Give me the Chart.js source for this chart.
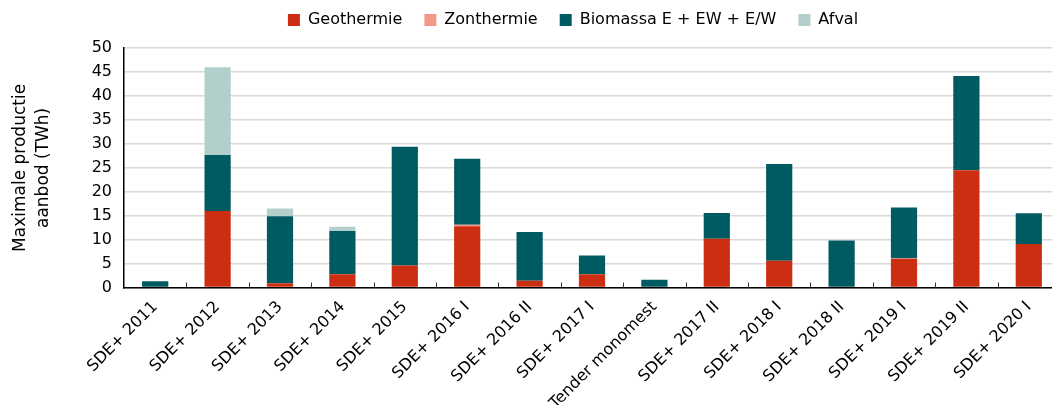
<!DOCTYPE html>
<html>
<head>
<meta charset="utf-8">
<script src="https://cdn.jsdelivr.net/npm/chart.js@4"></script>
<style>
  html, body { margin: 0; padding: 0; overflow: hidden; background: #fff; }
  #wrap { position: absolute; left: 0; top: 0; width: 1146px; height: 415px; }
</style>
</head>
<body>
<div id="wrap"><canvas id="sdeChart" width="1146" height="415"></canvas></div>
<script>
// rondes
const labels = ['SDE+ 2011', 'SDE+ 2012', 'SDE+ 2013', 'SDE+ 2014', 'SDE+ 2015', 'SDE+ 2016 I', 'SDE+ 2016 II',
  'SDE+ 2017 I', 'Tender monomest', 'SDE+ 2017 II', 'SDE+ 2018 I', 'SDE+ 2018 II', 'SDE+ 2019 I', 'SDE+ 2019 II', 'SDE+ 2020 I'];

// TWh per categorie
const geothermie = [0, 16.0, 0.9, 2.8, 4.6, 12.8, 1.4, 2.8, 0, 10.2, 5.6, 0, 6.0, 24.5, 9.1];
const zonthermie = [0, 0, 0, 0, 0, 0.3, 0, 0, 0, 0, 0, 0, 0.1, 0, 0];
const biomassa = [1.3, 11.7, 14.0, 9.0, 24.8, 13.8, 10.2, 3.9, 1.65, 5.4, 20.2, 9.85, 10.6, 19.7, 6.4];
const afval = [0, 18.3, 1.6, 0.9, 0, 0, 0, 0, 0, 0, 0, 0, 0, 0, 0];

const yTicks = { min: 0, max: 50, step: 5 };

const fontFam = "'DejaVu Sans', sans-serif";

// kleine tickjes aan de binnenkant van de x-as
const innerTicks = {
  id: 'innerTicks',
  afterDraw(chart) {
    const x = chart.scales.x;
    const ctx = chart.ctx;
    const bottom = chart.chartArea.bottom;
    const half = (x.getPixelForValue(1) - x.getPixelForValue(0)) / 2;
    ctx.save();
    ctx.strokeStyle = '#333';
    ctx.lineWidth = 1;
    for (let i = 1; i < labels.length; i++) {
      const px = Math.round(x.getPixelForValue(i) - half) + 0.5;
      ctx.beginPath();
      ctx.moveTo(px, bottom);
      ctx.lineTo(px, bottom - 5);
      ctx.stroke();
    }
    ctx.restore();
  }
};

const ctx = document.getElementById('sdeChart').getContext('2d');

const sdeChart = new Chart(ctx, {
  type: 'bar',
  data: {
    labels: labels,
    datasets: [
      { label: 'Geothermie', data: geothermie, backgroundColor: '#cc2e12' },
      { label: 'Zonthermie', data: zonthermie, backgroundColor: '#f4998a' },
      { label: 'Biomassa E + EW + E/W', data: biomassa, backgroundColor: '#005a62' },
      { label: 'Afval', data: afval, backgroundColor: '#b3cfcc' }
    ]
  },
  options: {
    responsive: false,
    animation: false,
    layout: { padding: { top: -10, left: 0, bottom: 0 } },
    datasets: {
      bar: { barPercentage: 0.42, categoryPercentage: 1 }
    },
    scales: {
      x: {
        stacked: true,
        grid: { display: false },
        border: { color: '#000', width: 1.5 },
        ticks: {
          color: '#000',
          font: { family: fontFam, size: 16 },
          maxRotation: 45,
          minRotation: 45,
          autoSkip: false,
          padding: 2
        }
      },
      y: {
        stacked: true,
        min: yTicks.min,
        max: yTicks.max,
        grid: { color: '#d9d9d9', lineWidth: 1.5, drawTicks: false },
        border: { color: '#000', width: 1.5 },
        ticks: {
          stepSize: yTicks.step,
          color: '#000',
          padding: 12,
          font: { family: fontFam, size: 16 }
        },
        title: {
          display: true,
          text: ['Maximale productie', 'aanbod (TWh)'],
          color: '#000',
          font: { family: fontFam, size: 17, lineHeight: 1.3 },
          padding: { top: 10, bottom: 4 }
        },
        afterFit: function(scale) { scale.width = 124; }
      },
      y2: {
        position: 'right',
        grid: { display: false, drawTicks: false },
        border: { display: false },
        ticks: { display: false },
        afterFit: function(scale) { scale.width = 86; }
      }
    },
    plugins: {
      legend: {
        position: 'top',
        labels: {
          color: '#000',
          boxWidth: 12,
          boxHeight: 12,
          padding: 22,
          font: { family: fontFam, size: 16 }
        }
      },
      // lege ondertitel als ruimte tussen legenda en grafiek
      subtitle: {
        display: true,
        text: '',
        weight: 500,
        font: { size: 1 },
        padding: { top: 0, bottom: 9 }
      },
      tooltip: { enabled: false }
    }
  },
  plugins: [innerTicks]
});
</script>
</body>
</html>
